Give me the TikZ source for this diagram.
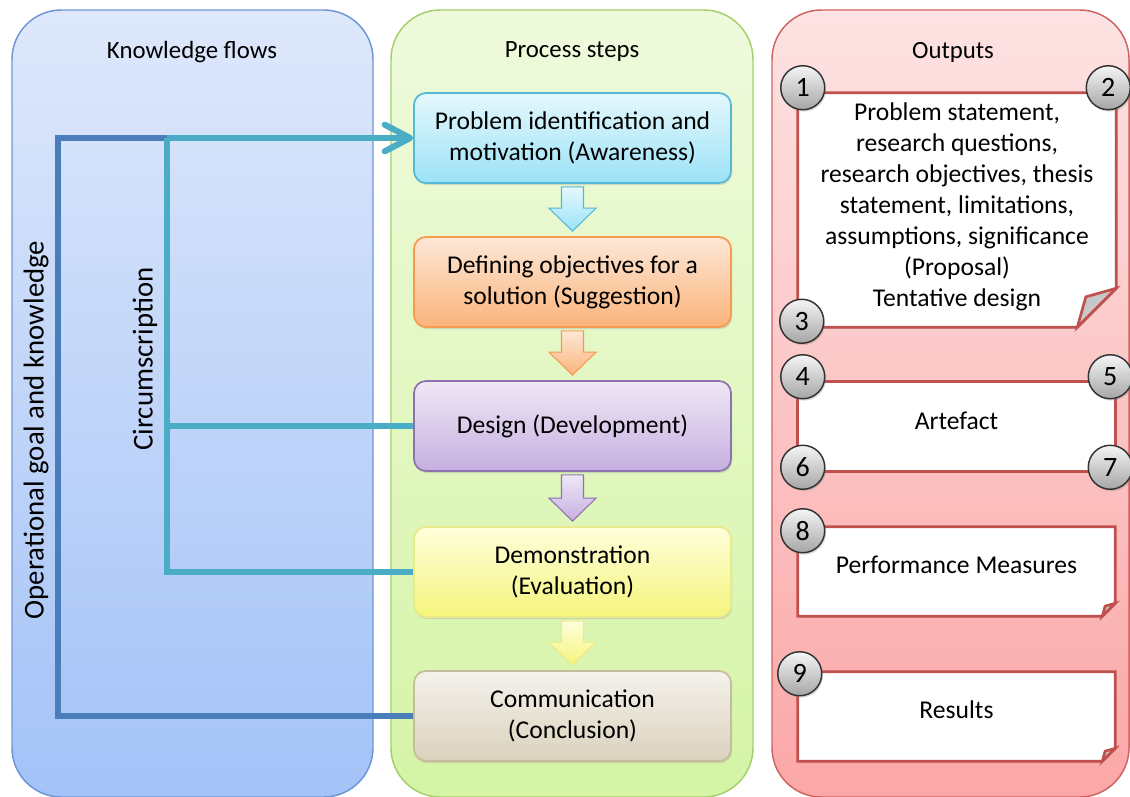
\documentclass[tikz,border=0pt]{standalone}
\usepackage{fontspec}
\setmainfont{Carlito}
\usetikzlibrary{calc,arrows.meta,shadows}

% panel colours
\definecolor{kfTop}{HTML}{DEE8FB}
\definecolor{kfBot}{HTML}{A3C2F7}
\definecolor{kfLine}{HTML}{6F96D4}
\definecolor{psTop}{HTML}{EFFADD}
\definecolor{psBot}{HTML}{D5F4A6}
\definecolor{psLine}{HTML}{A3D06A}
\definecolor{opTop}{HTML}{FDE3E3}
\definecolor{opBot}{HTML}{FBA7A7}
\definecolor{opLine}{HTML}{D06262}
% connector colours
\definecolor{goalBlue}{HTML}{4A7EBB}
\definecolor{circTeal}{HTML}{4BACC6}
% step colours
\definecolor{awTop}{HTML}{E4F8FD}\definecolor{awBot}{HTML}{9CE2F7}\definecolor{awLine}{HTML}{55B9D6}
\definecolor{sgTop}{HTML}{FDE7D6}\definecolor{sgBot}{HTML}{FBB47B}\definecolor{sgLine}{HTML}{F79A50}
\definecolor{dvTop}{HTML}{EFE8F6}\definecolor{dvBot}{HTML}{C6AFE0}\definecolor{dvLine}{HTML}{8E72AF}
\definecolor{evTop}{HTML}{FEFEDC}\definecolor{evBot}{HTML}{F5F57C}\definecolor{evLine}{HTML}{EAEA8A}
\definecolor{ccTop}{HTML}{F5F2EC}\definecolor{ccBot}{HTML}{DBD2BD}\definecolor{ccLine}{HTML}{C8BC9E}
\definecolor{outRed}{HTML}{C0504D}

% block arrow between two stacked steps
\newcommand\stepflow[5]{%
  \path[draw=#5, line width=0.8pt, top color=#3, bottom color=#4]
    ($(#1.south)+(-11,3)$) -- ($(#1.south)+(11,3)$)
    -- ($(#2.north)+(11,-28)$) -- ($(#2.north)+(23.5,-28)$)
    -- ($(#2.north)+(0,-5)$) -- ($(#2.north)+(-23.5,-28)$)
    -- ($(#2.north)+(-11,-28)$) -- cycle;}

% output sheet with a folded lower right corner
\newcommand\sheet[2]{%
  \path[sheetfill] (#1.north west) -- (#1.north east)
    -- ($(#1.south east)+(0,-#2)$) -- ($(#1.south east)+(-#2,0)$)
    -- (#1.south west) -- cycle;
  \draw[sheetline] (#1.north west) -- (#1.north east)
    -- ($(#1.south east)+(0,-#2)$) -- ($(#1.south east)+(-#2,0)$)
    -- (#1.south west) -- cycle;
  \draw[sheetline, fill=black!22] ($(#1.south east)+(0,-#2)$)
    -- ($(#1.south east)+(-#2,0)$)
    -- ($(#1.south east)+(-0.78*#2,-0.78*#2)$) -- cycle;}

\begin{document}
\begin{tikzpicture}[x=0.75pt, y=-0.75pt,
  every node/.style={font=\fontsize{19.2pt}{23.3pt}\selectfont, text=black},
  header/.style={font=\fontsize{18.6pt}{23.3pt}\selectfont},
  sidetext/.style={rotate=90, font=\fontsize{21.6pt}{26pt}\selectfont},
  panel/.style={rounded corners=37pt, line width=1.1pt},
  stepbox/.style={rectangle, rounded corners=9pt, minimum width=237.75pt,
    minimum height=67.5pt, align=center, line width=1.3pt, inner sep=0pt,
    drop shadow={shadow xshift=0.8pt, shadow yshift=-1.6pt, opacity=0.25}},
  outbox/.style={rectangle, minimum width=238pt, inner sep=0pt},
  sheetfill/.style={fill=white, drop shadow={shadow xshift=0.8pt, shadow yshift=-1.2pt, opacity=0.25}},
  sheetline/.style={draw=outRed, line width=2pt, line join=miter},
  num/.style={circle, minimum size=33pt, inner sep=0pt, draw=black!80,
    line width=1.1pt, top color=black!4, bottom color=black!35,
    font=\fontsize{21pt}{24pt}\selectfont,
    drop shadow={shadow xshift=1pt, shadow yshift=-1.4pt, opacity=0.3}},
  goal/.style={draw=goalBlue, line width=4.6pt},
  circ/.style={draw=circTeal, line width=4.6pt}
]
\useasboundingbox (0,0) rectangle (1130,796);
\clip (0,0) rectangle (1130,796);

% ---- three columns
\path[panel, draw=kfLine, top color=kfTop, bottom color=kfBot] (12,10) rectangle (373,797);
\path[panel, draw=psLine, top color=psTop, bottom color=psBot] (391,10) rectangle (753,797);
\path[panel, draw=opLine, top color=opTop, bottom color=opBot] (772,10) rectangle (1129,797);

\node[header] (kf) at (192,52) {Knowledge flows};
\node[header] (ps) at (572,52) {Process steps};
\node[header] (op) at (953,52) {Outputs};

% ---- process steps
\node[stepbox, draw=awLine, top color=awTop, bottom color=awBot] (b1) at (572.5,138)
  {Problem identification and\\motivation (Awareness)};
\node[stepbox, draw=sgLine, top color=sgTop, bottom color=sgBot] (b2) at (572.5,282)
  {Defining objectives for a\\solution (Suggestion)};
\node[stepbox, draw=dvLine, top color=dvTop, bottom color=dvBot] (b3) at (572.5,426)
  {Design (Development)};
\node[stepbox, draw=evLine, top color=evTop, bottom color=evBot] (b4) at (572.5,572)
  {Demonstration\\(Evaluation)};
\node[stepbox, draw=ccLine, top color=ccTop, bottom color=ccBot] (b5) at (572.5,716)
  {Communication\\(Conclusion)};

\stepflow{b1}{b2}{awTop}{awBot}{awLine}
\stepflow{b2}{b3}{sgTop}{sgBot}{sgLine}
\stepflow{b3}{b4}{dvTop}{dvBot}{dvLine}
\stepflow{b4}{b5}{evTop}{evBot}{evLine}

% ---- knowledge flows
\coordinate (goaltop) at (58,138);
\coordinate (junc) at (167,138);
\draw[goal] (b5.west) -| (goaltop) -- (junc);
\draw[circ] (junc) |- (b4.west);
\draw[circ] (junc |- b3.west) -- (b3.west);
\draw[circ, -{Straight Barb[length=19pt, width=20pt, round]}] (junc) -- (b1.west);

\node[sidetext] (goaltext) at (36,430) {Operational goal and knowledge};
\node[sidetext] (circtext) at (145,359) {Circumscription};

% ---- outputs
\node[outbox, minimum width=238.5pt, minimum height=175.5pt] (o1) at (957,210) {};
\node[outbox, minimum width=237.75pt, minimum height=66.75pt] (o2) at (956.5,426.5) {};
\node[outbox, minimum width=237.75pt, minimum height=66.75pt] (o3) at (956.5,571.5) {};
\node[outbox, minimum width=237.75pt, minimum height=66.75pt] (o4) at (956.5,716.5) {};

\sheet{o1}{39}
\path[sheetfill] (o2.north west) rectangle (o2.south east);
\draw[sheetline] (o2.north west) rectangle (o2.south east);
\sheet{o3}{13}
\sheet{o4}{13}

\node[align=center] (o1t) at ($(o1.center)+(0,-3)$)
  {Problem statement,\\research questions,\\research objectives, thesis\\statement, limitations,\\assumptions, significance\\(Proposal)\\Tentative design};
\node (o2t) at ($(o2.center)+(0,-6)$) {Artefact};
\node (o3t) at ($(o3.center)+(0,-7)$) {Performance Measures};
\node (o4t) at ($(o4.center)+(0,-7)$) {Results};

\node[num] (n1) at ($(o1.north west)+(5,-5)$) {1};
\node[num] (n2) at ($(o1.north east)+(-8,-5)$) {2};
\node[num] (n3) at ($(o1.south west)+(4,-6)$) {3};
\node[num] (n4) at ($(o2.north west)+(5,-5)$) {4};
\node[num] (n5) at ($(o2.north east)+(-5,-5)$) {5};
\node[num] (n6) at ($(o2.south west)+(5,-4)$) {6};
\node[num] (n7) at ($(o2.south east)+(-5,-4)$) {7};
\node[num] (n8) at ($(o3.north west)+(5,4)$) {8};
\node[num] (n9) at ($(o4.north west)+(2,2)$) {9};
\end{tikzpicture}
\end{document}
